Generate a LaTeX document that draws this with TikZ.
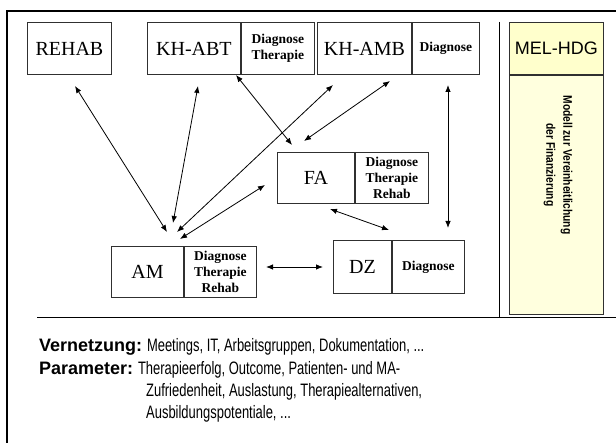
\documentclass[tikz,border=0pt]{standalone}
\usepackage{fontspec}
\setmainfont{Liberation Serif}
\setsansfont{Liberation Sans}
\newfontfamily\narrowsans[FakeStretch=0.72]{Liberation Sans}
\newfontfamily\condsans[FakeStretch=0.82]{Liberation Sans}
\usetikzlibrary{arrows.meta}
\definecolor{meltop}{HTML}{FFFFCC}
\definecolor{melbot}{HTML}{FFFFDE}
\definecolor{boxline}{HTML}{303030}
\tikzset{
  mainbox/.style={draw=boxline, line width=0.9pt, anchor=north west, inner sep=0pt,
    font=\fontsize{20}{22}\selectfont},
  subbox/.style={draw=boxline, line width=0.9pt, anchor=north west, inner sep=0pt,
    align=center, font=\fontsize{13.5}{16}\selectfont\bfseries},
  link/.style={line width=0.8pt, {Latex[length=7pt,width=5.5pt]}-{Latex[length=7pt,width=5.5pt]}},
  bottomtext/.style={anchor=base west, inner sep=0pt, font=\narrowsans\fontsize{18}{20}\selectfont}
}
\newcommand{\lbl}[1]{{\sffamily\bfseries #1}}
\begin{document}
\begin{tikzpicture}[x=1pt, y={(0pt,-1pt)}]
\useasboundingbox (0,0) rectangle (616,443);
% frame
\draw[line width=2pt] (6.5,443) -- (6.5,11) -- (616,11);
\draw[line width=1pt] (37,318) -- (616,318);
\draw[line width=1pt] (499,22) -- (499,318);
% MEL-HDG column
\node[draw=boxline, line width=0.9pt, fill=meltop, anchor=north west, inner sep=0pt,
  minimum width=94pt, minimum height=52pt, font=\sffamily\fontsize{18}{20}\selectfont]
  (mel) at (509,22) {MEL-HDG};
\node[draw=boxline, line width=0.9pt, fill=melbot, anchor=north west, inner sep=0pt,
  minimum width=94pt, minimum height=239pt] (melbody) at (mel.south west) {};
\node[rotate=-90, align=center, inner sep=0pt, font=\condsans\bfseries\fontsize{12.5}{17}\selectfont]
  (modell) at (558,165) {Modell zur Vereinheitlichung\\der Finanzierung};
% boxes
\node[mainbox, minimum width=84pt, minimum height=52pt] (rehab) at (27,22) {REHAB};
\node[mainbox, minimum width=93pt, minimum height=52pt] (khabt) at (147,22) {KH-ABT};
\node[subbox, minimum width=73pt, minimum height=52pt] (khabtd) at (khabt.north east) {Diagnose\\Therapie};
\node[mainbox, minimum width=94pt, minimum height=52pt] (khamb) at (317,22) {KH-AMB};
\node[subbox, minimum width=67pt, minimum height=52pt] (khambd) at (khamb.north east) {Diagnose};
\node[mainbox, minimum width=77pt, minimum height=51pt] (fa) at (277,152) {FA};
\node[subbox, minimum width=73pt, minimum height=51pt] (fad) at (fa.north east) {Diagnose\\Therapie\\Rehab};
\node[mainbox, minimum width=72pt, minimum height=51pt] (am) at (111,246) {AM};
\node[subbox, minimum width=72pt, minimum height=51pt] (amd) at (am.north east) {Diagnose\\Therapie\\Rehab};
\node[mainbox, minimum width=58pt, minimum height=53pt] (dz) at (333,240) {DZ};
\node[subbox, minimum width=72pt, minimum height=53pt] (dzd) at (dz.north east) {Diagnose};
% connector end points
\coordinate (a1s) at (75,86);   \coordinate (a1e) at (167,232);
\coordinate (a2s) at (198,86);  \coordinate (a2e) at (173,223);
\coordinate (a3s) at (236,75);  \coordinate (a3e) at (292,145);
\coordinate (a4s) at (333,85);  \coordinate (a4e) at (177,232);
\coordinate (a5s) at (390,81);  \coordinate (a5e) at (304,141);
\coordinate (a6s) at (265,185); \coordinate (a6e) at (180,239);
\coordinate (a7s) at (330,209); \coordinate (a7e) at (389,230);
\coordinate (a8s) at (448,85);  \coordinate (a8e) at (448,228);
\coordinate (a9s) at (266,267); \coordinate (a9e) at (323,267);
\draw[link] (a1s) -- (a1e);
\draw[link] (a2s) -- (a2e);
\draw[link] (a3s) -- (a3e);
\draw[link] (a4s) -- (a4e);
\draw[link] (a5s) -- (a5e);
\draw[link] (a6s) -- (a6e);
\draw[link] (a7s) -- (a7e);
\draw[link] (a8s) -- (a8e);
\draw[link] (a9s) -- (a9e);
% bottom text
\node[bottomtext] (t1) at (39,352) {\lbl{Vernetzung:} Meetings, IT, Arbeitsgruppen, Dokumentation, ...};
\node[bottomtext] (t2) at (39,375) {\lbl{Parameter:} Therapieerfolg, Outcome, Patienten- und MA-};
\node[bottomtext] (t3) at (146,397) {Zufriedenheit, Auslastung, Therapiealternativen,};
\node[bottomtext] (t4) at (146,419) {Ausbildungspotentiale, ...};
\end{tikzpicture}
\end{document}
